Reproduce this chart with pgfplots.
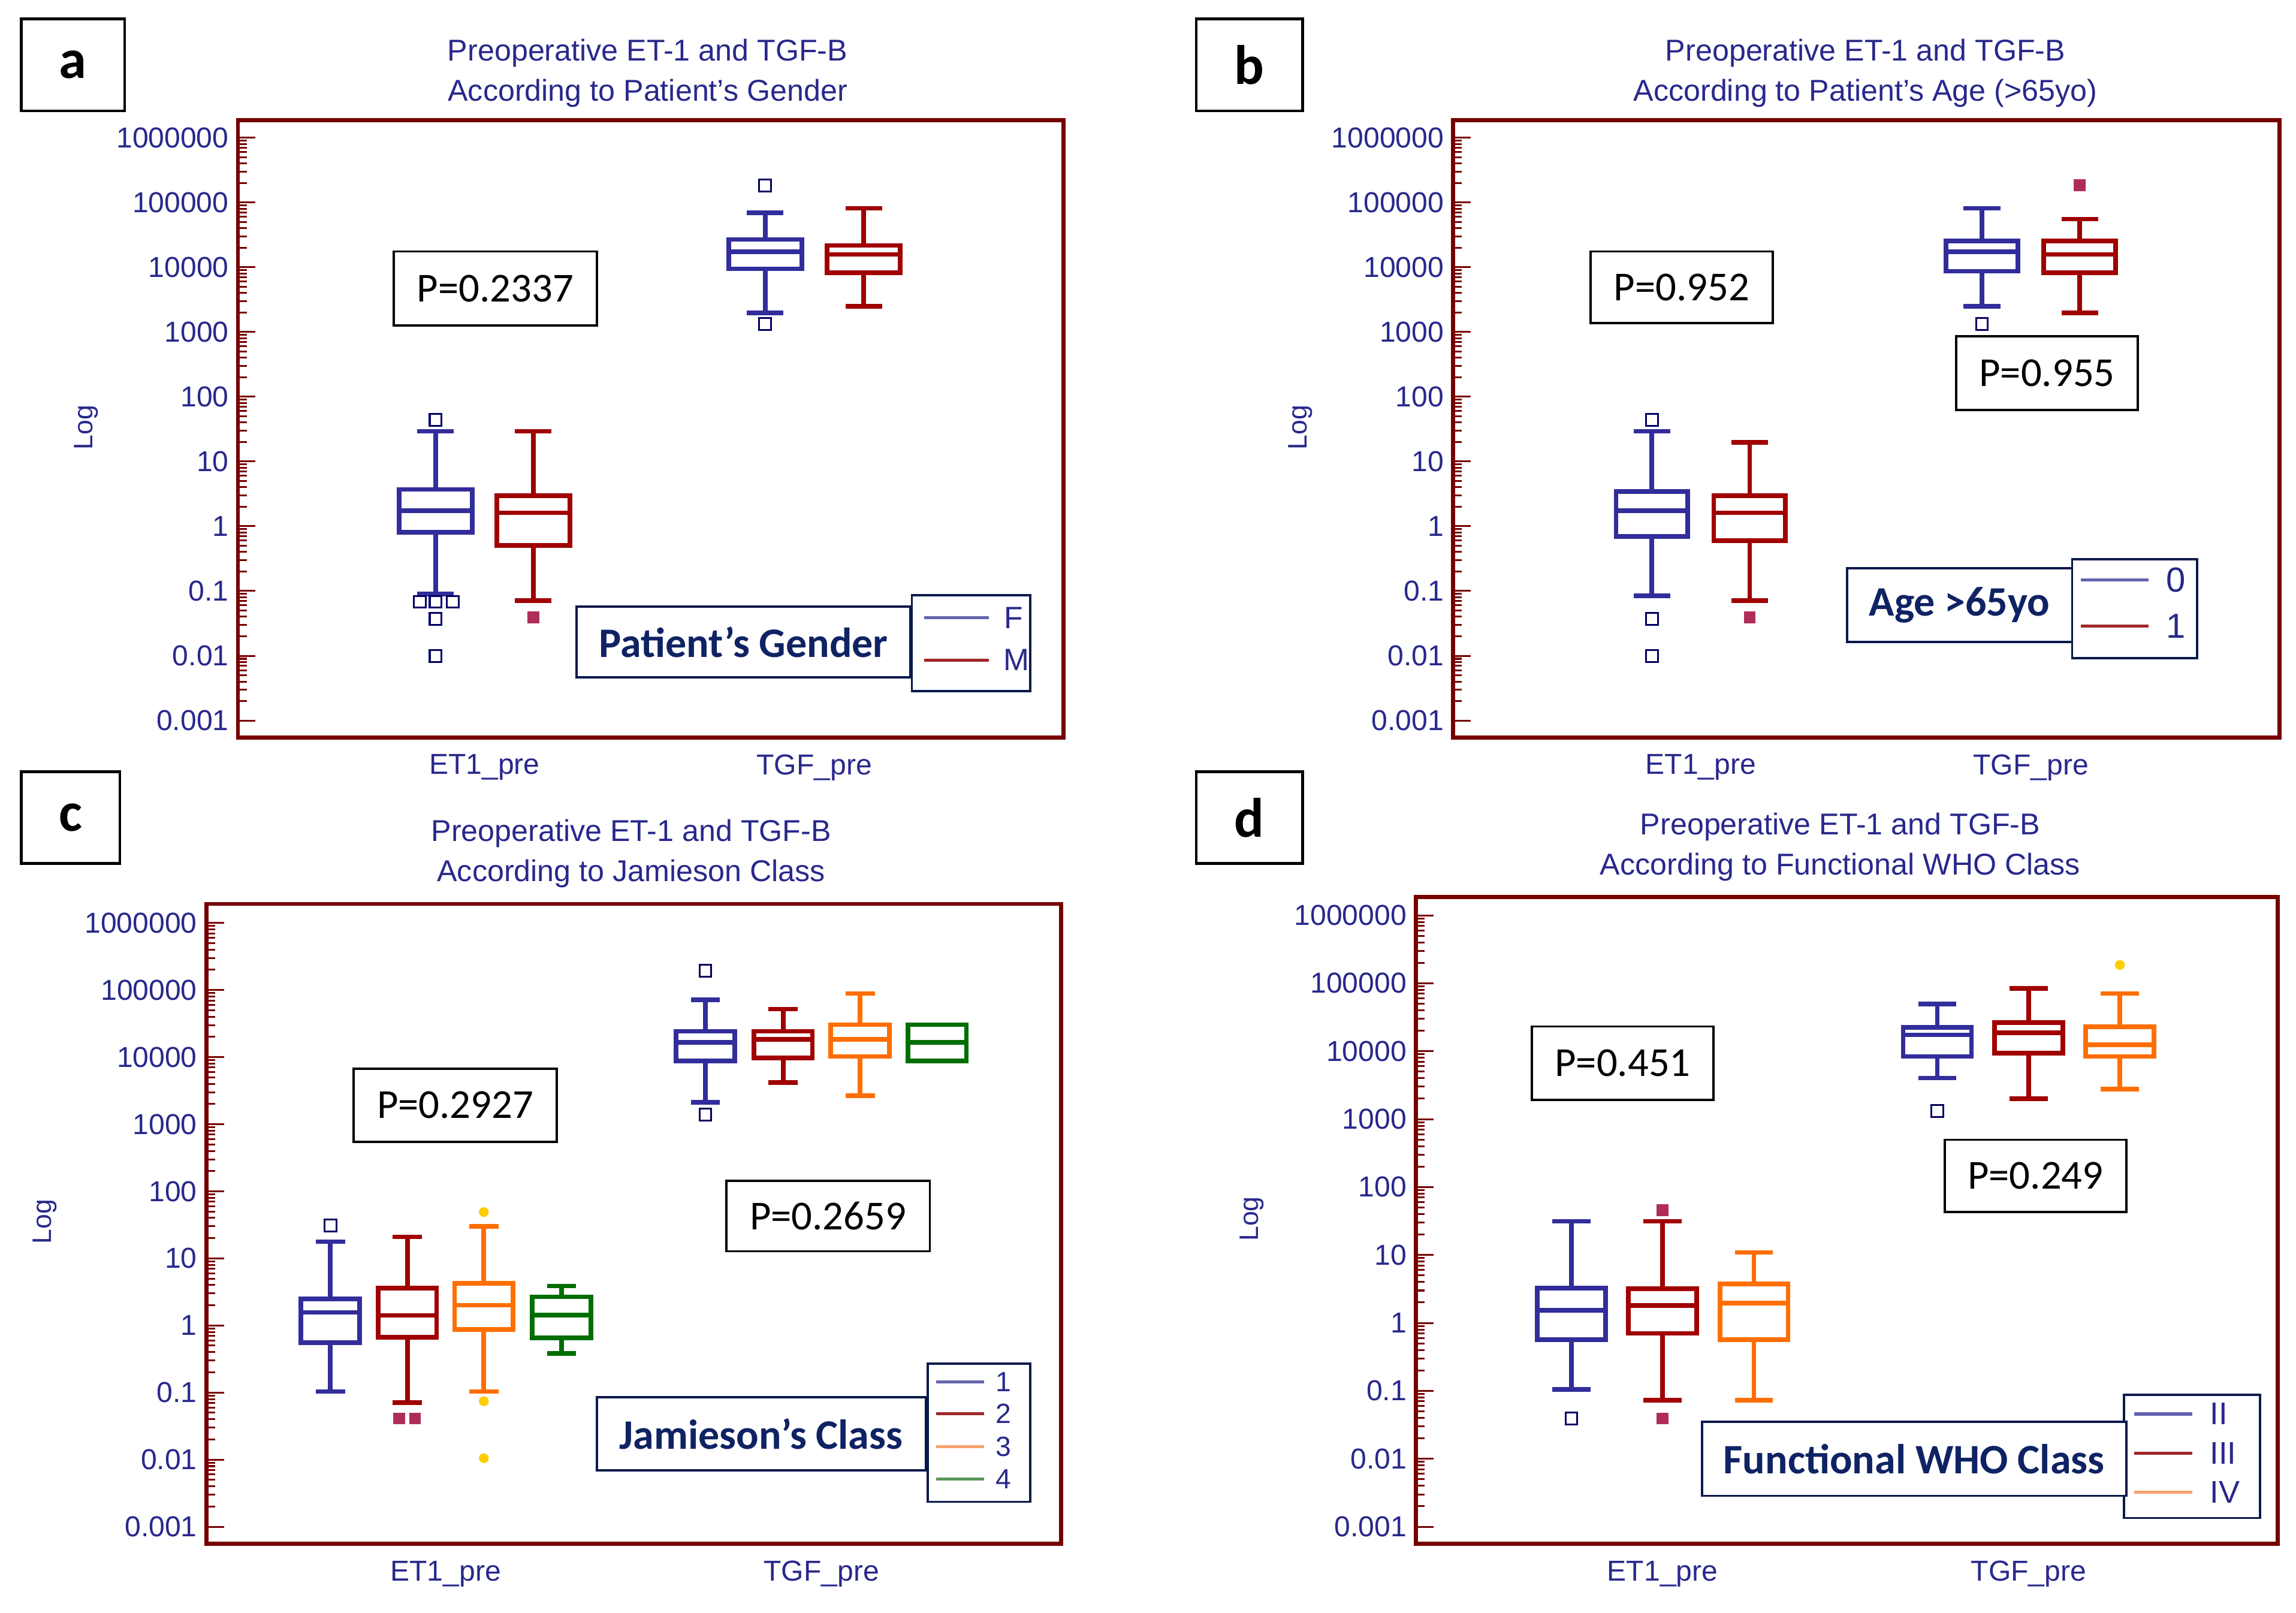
\documentclass[border=0pt]{standalone}
\usepackage{fontspec}
\setmainfont{Liberation Sans}
\newfontfamily\carl{Carlito}
\usepackage{pgfplots}
\pgfplotsset{compat=1.18}
\usepgfplotslibrary{statistics}

\definecolor{navy}{RGB}{40,40,140}
\definecolor{frameRed}{RGB}{118,0,0}
\definecolor{bBlue}{RGB}{50,45,155}
\definecolor{bRed}{RGB}{160,0,0}
\definecolor{bOrange}{RGB}{255,110,0}
\definecolor{bGreen}{RGB}{0,110,0}
\definecolor{oBlue}{RGB}{0,0,100}
\definecolor{oMaroon}{RGB}{175,45,90}
\definecolor{oGold}{RGB}{255,205,0}
\definecolor{legNavy}{RGB}{10,25,75}
\definecolor{legTitle}{RGB}{15,35,100}
\definecolor{lBlue}{RGB}{100,100,175}
\definecolor{lRed}{RGB}{160,40,40}
\definecolor{lOrange}{RGB}{250,160,110}
\definecolor{lGreen}{RGB}{90,150,90}

\pgfplotsset{
  mypanelstyle/.style={
    scale only axis, anchor=south west, xmin=0,
    axis line style={draw=frameRed, line width=1.6pt},
    ytick={0.001,0.01,0.1,1,10,100,1000,10000,100000,1000000},
    yticklabels={0.001,0.01,0.1,1,10,100,1000,10000,100000,1000000},
    minor ytick={0.002,0.003,0.004,0.005,0.006,0.007,0.008,0.009,
      0.02,0.03,0.04,0.05,0.06,0.07,0.08,0.09,
      0.2,0.3,0.4,0.5,0.6,0.7,0.8,0.9,
      2,3,4,5,6,7,8,9,
      20,30,40,50,60,70,80,90,
      200,300,400,500,600,700,800,900,
      2000,3000,4000,5000,6000,7000,8000,9000,
      20000,30000,40000,50000,60000,70000,80000,90000,
      200000,300000,400000,500000,600000,700000,800000,900000},
    ytick pos=left, tick align=inside,
    major tick length=0.24cm, minor tick length=0.12cm,
    tick style={draw=frameRed, line width=0.7pt},
    major x tick style={draw=none},
    yticklabel style={font=\fontsize{11.2}{13}\selectfont, text=navy, anchor=east, inner sep=0pt, xshift=-0.12cm},
    xticklabel style={font=\fontsize{11.2}{13}\selectfont, text=navy, anchor=center, inner sep=0pt, yshift=-0.41cm},
    clip=false,
  },
  oblue/.style={only marks, mark=square, mark size=2.3pt, mark options={draw=oBlue, line width=0.7pt, fill=white, solid}},
  omaroon/.style={only marks, mark=square*, mark size=2.1pt, mark options={draw=oMaroon, fill=oMaroon, solid}},
  ogold/.style={only marks, mark=*, mark size=1.7pt, mark options={draw=oGold, fill=oGold, solid}},
}

\newcommand{\bx}[7]{\addplot[#1, solid, line width=1.8pt, boxplot prepared={draw direction=y, draw position=#2, lower whisker=#3, lower quartile=#4, median=#5, upper quartile=#6, upper whisker=#7, box extend=\bext, whisker extend=\wext}] coordinates {};}

\newcommand{\pbox}[5]{\draw[line width=0.9pt, fill=white] (#1,#2) rectangle (#3,#4); \node[font=\carl\fontsize{16}{19}\selectfont, inner sep=0pt] at ({(#1+#3)/2},{(#2+#4)/2}) {#5};}
\newcommand{\ltitle}[5]{\draw[legNavy, line width=0.9pt, fill=white] (#1,#2) rectangle (#3,#4); \node[font=\carl\bfseries\fontsize{16.3}{19}\selectfont, text=legTitle, inner sep=0pt] at ({(#1+#3)/2},{(#2+#4)/2}) {#5};}
\newcommand{\lbox}[4]{\draw[legNavy, line width=0.9pt, fill=white] (#1,#2) rectangle (#3,#4);}
\newcommand{\letter}[5]{\draw[line width=1.1pt] (#1,#2) rectangle (#3,#4); \node[font=\carl\bfseries\fontsize{21.6}{24}\selectfont, inner sep=0pt] at ({(#1+#3)/2},{(#2+#4)/2}) {#5};}
\newcommand{\ttl}[4]{\node[font=\fontsize{11.7}{14}\selectfont, text=navy, inner sep=0pt] at (#1,#2) {#3}; \node[font=\fontsize{11.7}{14}\selectfont, text=navy, inner sep=0pt] at (#1,{#2+27.5}) {#4};}

\begin{document}
\begin{tikzpicture}
\path[use as bounding box] (0,0) rectangle (31.36,22.02);

% ---------------- panel a
\def\bext{50}\def\wext{25}
\begin{axis}[mypanelstyle, ymode=log, at={(3.25cm,11.95cm)}, width=11.272cm, height=8.43cm, xmax=563.6,
  ymin=5.50e-4, ymax=1.866e6, xtick={168.4,393.6}, xticklabels={ET1\_pre,TGF\_pre}]
\bx{bBlue}{135.0}{0.0904}{0.81}{1.73}{3.70}{29.2}
\bx{bRed}{201.7}{0.0706}{0.502}{1.61}{2.94}{29.2}
\bx{bBlue}{360.1}{1955}{9420}{17200}{26700}{69400}
\bx{bRed}{427.3}{2506}{8180}{15700}{21600}{81300}
\addplot[oblue] coordinates {(135.0,43.8) (124.2,0.068) (135.0,0.068) (146.7,0.068) (135.0,0.0374) (135.0,0.0099) (360.1,183000) (360.1,1326)};
\addplot[omaroon] coordinates {(201.7,0.0394)};
\end{axis}

% ---------------- panel b
\def\bext{49}\def\wext{25}
\begin{axis}[mypanelstyle, ymode=log, at={(19.848cm,11.95cm)}, width=11.29cm, height=8.43cm, xmax=564.5,
  ymin=5.50e-4, ymax=1.866e6, xtick={169.1,394.5}, xticklabels={ET1\_pre,TGF\_pre}]
\bx{bBlue}{135.7}{0.0843}{0.70}{1.73}{3.44}{29.2}
\bx{bRed}{202.5}{0.0706}{0.60}{1.61}{2.94}{19.8}
\bx{bBlue}{361.1}{2506}{8630}{17200}{25400}{81300}
\bx{bRed}{427.9}{1955}{8180}{15700}{25400}{55200}
\addplot[oblue] coordinates {(135.7,43.8) (135.7,0.0374) (135.7,0.0099) (361.1,1326)};
\addplot[omaroon] coordinates {(202.5,0.0394) (427.9,183000)};
\end{axis}

% ---------------- panel c
\def\bext{40}\def\wext{20}
\begin{axis}[mypanelstyle, ymode=log, at={(2.818cm,0.938cm)}, width=11.676cm, height=8.738cm, xmax=583.8,
  ymin=5.58e-4, ymax=1.923e6, xtick={163.5,420.1}, xticklabels={ET1\_pre,TGF\_pre}]
\bx{bBlue}{84.7}{0.1035}{0.557}{1.57}{2.49}{17.7}
\bx{bRed}{137.3}{0.0703}{0.671}{1.41}{3.60}{20.9}
\bx{bOrange}{189.5}{0.1035}{0.869}{2.0}{4.26}{30.2}
\bx{bGreen}{242.6}{0.385}{0.658}{1.43}{2.68}{3.88}
\bx{bBlue}{340.8}{2120}{8800}{16500}{24300}{71100}
\bx{bRed}{393.9}{4200}{9660}{18400}{24300}{51900}
\bx{bOrange}{446.5}{2650}{10200}{18400}{30400}{88800}
\bx{bGreen}{499.1}{8800}{8800}{16500}{30400}{30400}
\addplot[oblue] coordinates {(84.7,30.8) (340.8,193000) (340.8,1387)};
\addplot[omaroon] coordinates {(131.7,0.0411) (142.5,0.0411)};
\addplot[ogold] coordinates {(189.5,48.9) (189.5,0.0743) (189.5,0.0105)};
\end{axis}

% ---------------- panel d
\def\bext{46.6}\def\wext{26}
\begin{axis}[mypanelstyle, ymode=log, at={(19.338cm,0.938cm)}, width=11.77cm, height=8.834cm, xmax=588.5,
  ymin=5.62e-4, ymax=1.871e6, xtick={168.5,418.5}, xticklabels={ET1\_pre,TGF\_pre}]
\bx{bBlue}{106.2}{0.105}{0.564}{1.54}{3.25}{31.3}
\bx{bRed}{168.5}{0.0729}{0.70}{1.81}{3.19}{31.3}
\bx{bOrange}{230.9}{0.0729}{0.564}{1.95}{3.77}{10.9}
\bx{bBlue}{356.1}{4030}{8360}{17400}{22400}{49200}
\bx{bRed}{418.5}{2010}{9330}{18700}{26400}{83500}
\bx{bOrange}{480.8}{2750}{8360}{12500}{22800}{70800}
\addplot[oblue] coordinates {(106.2,0.0392) (356.1,1322)};
\addplot[omaroon] coordinates {(168.5,45.9) (168.5,0.0392)};
\addplot[ogold] coordinates {(480.8,186000)};
\end{axis}

% ---------------- annotations (pixel grid of the reference)
\begin{scope}[x=0.02cm, y=-0.02cm, shift={(0cm,22.02cm)}]
\letter{14.6}{12.9}{85.1}{75.7}{a}
\letter{816.8}{12.9}{889.4}{75.7}{b}
\letter{14.6}{526.8}{81.8}{589.4}{c}
\letter{816.8}{526.8}{889.4}{589.4}{d}

\ttl{442.2}{36.3}{Preoperative ET-1 and TGF-B}{According to Patient's Gender}
\ttl{1273.7}{36.3}{Preoperative ET-1 and TGF-B}{According to Patient's Age (>65yo)}
\ttl{431}{569.1}{Preoperative ET-1 and TGF-B}{According to Jamieson Class}
\ttl{1256.5}{564.4}{Preoperative ET-1 and TGF-B}{According to Functional WHO Class}

\node[font=\fontsize{10.4}{12}\selectfont, text=navy, rotate=90, inner sep=0pt] at (58.7,291.8) {Log};
\node[font=\fontsize{10.4}{12}\selectfont, text=navy, rotate=90, inner sep=0pt] at (888,291.8) {Log};
\node[font=\fontsize{10.4}{12}\selectfont, text=navy, rotate=90, inner sep=0pt] at (30.5,834) {Log};
\node[font=\fontsize{10.4}{12}\selectfont, text=navy, rotate=90, inner sep=0pt] at (854.6,832.1) {Log};

\pbox{268.8}{171.7}{407.4}{222.3}{P=0.2337}
\pbox{1085.9}{171.7}{1210.6}{220.6}{P=0.952}
\pbox{1335.8}{229.4}{1459.5}{279.9}{P=0.955}
\pbox{241.5}{729.5}{380.2}{779.5}{P=0.2927}
\pbox{495.8}{806.0}{634.9}{854.2}{P=0.2659}
\pbox{1046.1}{700.8}{1169.8}{750.9}{P=0.451}
\pbox{1327.9}{778.1}{1451.7}{827.4}{P=0.249}

% legend a
\lbox{622.6}{406.2}{703.5}{471.7}
\ltitle{393.8}{414}{621.7}{462.5}{Patient’s Gender}
\draw[lBlue, line width=1.2pt] (631,421.8) -- (675.3,421.8);
\draw[lRed, line width=1.2pt] (631,450.6) -- (675.3,450.6);
\node[font=\fontsize{12}{14}\selectfont, text=navy, inner sep=0pt] at (692.2,421.8) {F};
\node[font=\fontsize{12}{14}\selectfont, text=navy, inner sep=0pt] at (694,450.6) {M};

% legend b
\lbox{1414.8}{381.7}{1500.3}{449.3}
\ltitle{1261.1}{387.8}{1414.8}{438.1}{Age >65yo}
\draw[lBlue, line width=1.2pt] (1420.7,396) -- (1466.9,396);
\draw[lRed, line width=1.2pt] (1420.7,427.5) -- (1466.9,427.5);
\node[font=\fontsize{13.5}{16}\selectfont, text=navy, inner sep=0pt] at (1485.6,396) {0};
\node[font=\fontsize{13.5}{16}\selectfont, text=navy, inner sep=0pt] at (1485.6,427.5) {1};

% legend c
\lbox{633.5}{931.1}{703.5}{1025.3}
\ltitle{407.4}{953.9}{632.0}{1003.9}{Jamieson’s Class}
\draw[lBlue, line width=1.2pt] (639.1,943.4) -- (672,943.4);
\draw[lRed, line width=1.2pt] (639.1,965.1) -- (672,965.1);
\draw[lOrange, line width=1.2pt] (639.1,987.5) -- (672,987.5);
\draw[lGreen, line width=1.2pt] (639.1,1009.6) -- (672,1009.6);
\node[font=\fontsize{10.8}{13}\selectfont, text=navy, inner sep=0pt] at (685.2,943.4) {1};
\node[font=\fontsize{10.8}{13}\selectfont, text=navy, inner sep=0pt] at (685.2,965.1) {2};
\node[font=\fontsize{10.8}{13}\selectfont, text=navy, inner sep=0pt] at (685.2,987.5) {3};
\node[font=\fontsize{10.8}{13}\selectfont, text=navy, inner sep=0pt] at (685.2,1009.6) {4};

% legend d
\lbox{1450.2}{952.4}{1543.0}{1036.3}
\ltitle{1162.0}{970.8}{1451.7}{1021.2}{Functional WHO Class}
\draw[lBlue, line width=1.2pt] (1457.1,965.3) -- (1496.8,965.3);
\draw[lRed, line width=1.2pt] (1457.1,992.1) -- (1496.8,992.1);
\draw[lOrange, line width=1.2pt] (1457.1,1018.6) -- (1496.8,1018.6);
\node[font=\fontsize{12.2}{14}\selectfont, text=navy, inner sep=0pt, anchor=west] at (1508.6,965.3) {II};
\node[font=\fontsize{12.2}{14}\selectfont, text=navy, inner sep=0pt, anchor=west] at (1508.6,992.1) {III};
\node[font=\fontsize{12.2}{14}\selectfont, text=navy, inner sep=0pt, anchor=west] at (1508.6,1018.6) {IV};
\end{scope}
\end{tikzpicture}
\end{document}
